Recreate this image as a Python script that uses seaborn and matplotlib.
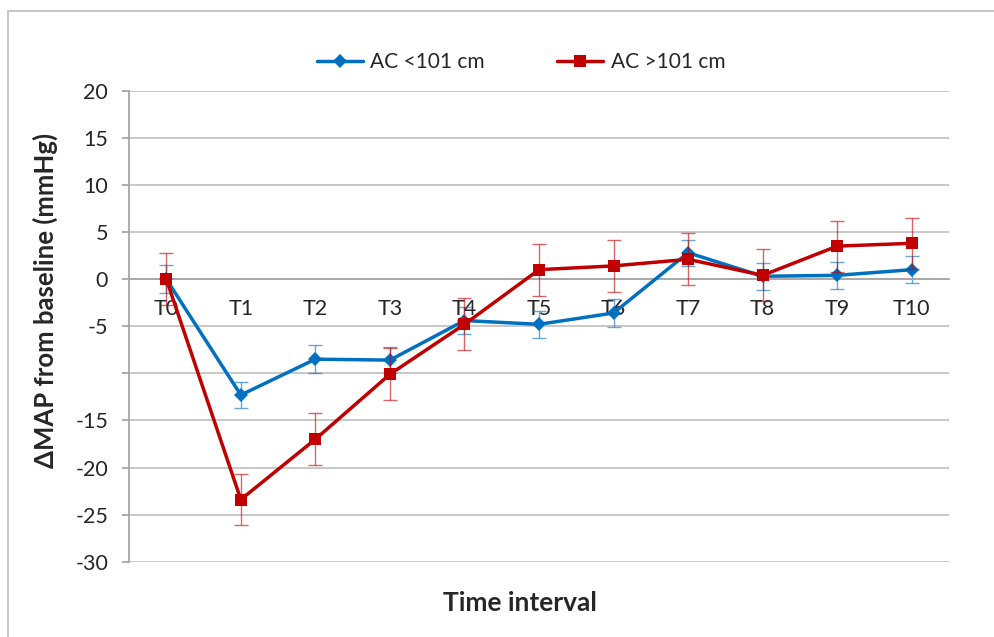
# Change in MAP from baseline by abdominal circumference group
import numpy as np
import pandas as pd
import matplotlib.pyplot as plt
import seaborn as sns
from matplotlib.lines import Line2D

# time points
intervals = ["T0", "T1", "T2", "T3", "T4", "T5", "T6", "T7", "T8", "T9", "T10"]

# mean change (mmHg) and error for AC < 101 cm
low_mean = [0.0, -12.3, -8.5, -8.6, -4.4, -4.8, -3.6, 2.8, 0.3, 0.4, 1.0]
low_err = [1.5, 1.4, 1.5, 1.4, 1.45, 1.45, 1.45, 1.4, 1.45, 1.4, 1.45]

# mean change (mmHg) and error for AC > 101 cm
high_mean = [0.0, -23.4, -17.0, -10.1, -4.8, 1.0, 1.4, 2.1, 0.4, 3.5, 3.8]
high_err = [2.75, 2.75, 2.75, 2.75, 2.75, 2.75, 2.75, 2.75, 2.75, 2.7, 2.7]

# y axis ticks, -10 has no label in the original
y_ticks = [-30, -25, -20, -15, -10, -5, 0, 5, 10, 15, 20]
y_tick_labels = ["-30", "-25", "-20", "-15", "", "-5", "0", "5", "10", "15", "20"]

BLUE = "#0070C0"
RED = "#C00000"
GRID = "#C4C4C4"
AXIS = "#A6A6A6"

sns.set_style("white")
plt.rcParams["font.family"] = ["Lato", "DejaVu Sans"]

fig = plt.figure(figsize=(9.94, 6.37), dpi=100)
ax = fig.add_axes([129 / 994, 1 - 561.7 / 637, 820 / 994, 471 / 637])

df = pd.DataFrame({
    "interval": intervals * 2,
    "pos": list(range(len(intervals))) * 2,
    "change": low_mean + high_mean,
    "group": ["AC <101 cm"] * len(intervals) + ["AC >101 cm"] * len(intervals),
})

# error bars first so lines sit on top
ax.errorbar(df["pos"][:11], low_mean, yerr=low_err, fmt="none",
            ecolor=BLUE, elinewidth=1, capsize=5, capthick=1, alpha=0.6, zorder=2)
ax.errorbar(df["pos"][11:], high_mean, yerr=high_err, fmt="none",
            ecolor=RED, elinewidth=1, capsize=5, capthick=1, alpha=0.6, zorder=4)

sns.lineplot(data=df[df["group"] == "AC <101 cm"], x="pos", y="change",
             color=BLUE, marker="D", markersize=7, markeredgewidth=0,
             linewidth=2.5, ax=ax, zorder=3, legend=False)
sns.lineplot(data=df[df["group"] == "AC >101 cm"], x="pos", y="change",
             color=RED, marker="s", markersize=9, markeredgewidth=0,
             linewidth=2.5, ax=ax, zorder=5, legend=False)

ax.set_xlim(-0.5, len(intervals) - 0.5)
ax.set_ylim(-30, 20)

# gridlines
ax.set_yticks(y_ticks)
ax.set_yticklabels(y_tick_labels)
ax.yaxis.grid(True, color=GRID, linewidth=1.3)
ax.set_axisbelow(True)

# category axis drawn through zero
ax.spines["bottom"].set_position(("data", 0))
ax.spines["bottom"].set_color(AXIS)
ax.spines["bottom"].set_linewidth(1.3)
ax.spines["left"].set_color(AXIS)
ax.spines["left"].set_linewidth(1.3)
ax.spines["top"].set_visible(False)
ax.spines["right"].set_visible(False)

ax.set_xticks(range(len(intervals)))
ax.set_xticklabels(intervals)
ax.set_xticks(np.arange(0.5, len(intervals), 1.0), minor=True)
ax.tick_params(axis="x", which="major", length=0, pad=14, labelsize=15.5)
ax.tick_params(axis="x", which="minor", length=5, width=1.3, color=AXIS,
               direction="out")
ax.tick_params(axis="y", which="major", length=5, width=1.3, color=AXIS,
               pad=10, labelsize=15.5, left=True)

ax.set_xlabel("")
ax.set_ylabel("")

fig.text(45 / 994, 1 - 300 / 637, "ΔMAP from baseline (mmHg)", rotation=90,
         ha="center", va="center", fontsize=18.5, fontweight="bold")
fig.text(520 / 994, 1 - 603 / 637, "Time interval", ha="center", va="center",
         fontsize=19, fontweight="bold")

# legend above the plot
handles = [
    Line2D([], [], color=BLUE, marker="D", markersize=7, markeredgewidth=0, linewidth=2.5),
    Line2D([], [], color=RED, marker="s", markersize=9, markeredgewidth=0, linewidth=2.5),
]
fig.legend(handles, ["AC <101 cm", "AC >101 cm"], loc="center",
           bbox_to_anchor=(521 / 994, 1 - 62 / 637), ncol=2, frameon=False,
           fontsize=15, handlelength=2.2, handletextpad=0.35, columnspacing=3.5)

# chart area border (left and top edges visible)
fig.add_artist(Line2D([8 / 994, 8 / 994], [0, 1 - 11 / 637], color="#C8C8C8",
                      linewidth=1.5, transform=fig.transFigure))
fig.add_artist(Line2D([8 / 994, 1], [1 - 11 / 637, 1 - 11 / 637], color="#C8C8C8",
                      linewidth=1.5, transform=fig.transFigure))

fig.savefig("out.png", dpi=100)
